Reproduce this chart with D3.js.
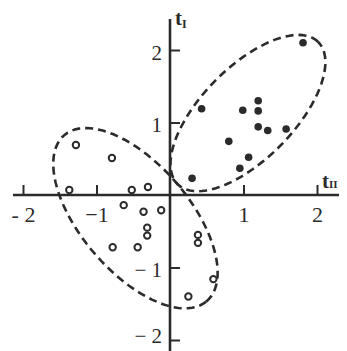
<!DOCTYPE html>
<html lang="zh">
    <head>
        <meta charset="utf-8">
        <title>t_I / t_II 散点图</title>
        <script type="text/javascript" src="https://cdn.jsdelivr.net/npm/d3@7/dist/d3.min.js"></script>
        <style>
            body { margin: 0; background: #fff; }
            text { font-family: "Liberation Serif", "DejaVu Serif", serif; fill: #2b2b2b; }
        </style>
    </head>
    <body>
        <div class="chart"></div>
        <script type="text/javascript">
            // 第一类（实心点）
            var groupI_x = [0.43, 0.99, 1.20, 1.20, 1.20, 1.33, 1.58, 0.80, 1.07, 0.95, 0.30, 1.81];
            var groupI_y = [1.19, 1.17, 1.30, 1.16, 0.94, 0.89, 0.91, 0.74, 0.52, 0.37, 0.23, 2.10];
            // 第二类（空心圈）
            var groupII_x = [-1.28, -0.79, -1.37, -0.52, -0.30, -0.63, -0.36, -0.12, -0.31, -0.31, -0.78, -0.44, 0.38, 0.38, 0.59, 0.25];
            var groupII_y = [0.69, 0.51, 0.07, 0.07, 0.11, -0.14, -0.23, -0.21, -0.45, -0.56, -0.72, -0.72, -0.55, -0.66, -1.16, -1.40];
            // 刻度
            var xTicks = [-2, -1, 1, 2];
            var xTickLabels = ["- 2", "\u22121", "1", "2"];
            var yTicks = [2, 1, -1, -2];
            var yTickLabels = ["2", "1", "\u2212 1", "\u2212 2"];
            // 虚线椭圆: 中心, 半长轴, 半短轴, 倾角(度)
            var ellipseI = [1.06, 1.13, 1.37, 0.63, 46];
            var ellipseII = [-0.47, -0.32, 1.50, 0.74, -50];

            var w = 347, h = 351;
            var svg = d3.select("body div.chart")
                        .append("svg")
                        .attr("width", w)
                        .attr("height", h);

            var x = d3.scaleLinear().domain([-2, 2]).range([23, 317]);
            var y = d3.scaleLinear().domain([-2, 2]).range([340, 50]);
            var ink = "#2b2b2b";

            // 坐标轴线
            svg.append("line").attr("x1", 13).attr("x2", 339).attr("y1", y(0)).attr("y2", y(0))
               .attr("stroke", ink).attr("stroke-width", 2.6);
            svg.append("line").attr("x1", x(0)).attr("x2", x(0)).attr("y1", 19).attr("y2", h)
               .attr("stroke", ink).attr("stroke-width", 2.6);

            var xAxis = d3.axisBottom(x).tickValues(xTicks)
                          .tickFormat(function(d, i){return xTickLabels[i];})
                          .tickSizeInner(-10).tickSizeOuter(0).tickPadding(11);
            var gx = svg.append("g").attr("transform", "translate(0," + y(0) + ")").call(xAxis);
            gx.select(".domain").remove();
            gx.selectAll(".tick line").attr("stroke", ink).attr("stroke-width", 2);
            gx.selectAll(".tick text").attr("font-size", "22px").attr("fill", ink)
              .attr("font-family", "Liberation Serif");

            var yAxis = d3.axisLeft(y).tickValues(yTicks)
                          .tickFormat(function(d, i){return yTickLabels[i];})
                          .tickSizeInner(-10).tickSizeOuter(0).tickPadding(8);
            var gy = svg.append("g").attr("transform", "translate(" + x(0) + ",0)").call(yAxis);
            gy.select(".domain").remove();
            gy.selectAll(".tick line").attr("stroke", ink).attr("stroke-width", 2);
            gy.selectAll(".tick text").attr("font-size", "21px").attr("fill", ink)
              .attr("font-family", "Liberation Serif")
              .attr("dy", function(d){return d < -1.5 ? "0.1em" : "0.45em";});

            // 轴名
            var tI = svg.append("text").attr("x", 175).attr("y", 25).attr("font-size", "21px").attr("font-weight", "bold");
            tI.append("tspan").text("t");
            tI.append("tspan").attr("font-size", "12px").attr("dy", 3).text("I");
            var tII = svg.append("text").attr("x", 322).attr("y", 188).attr("font-size", "21px").attr("font-weight", "bold");
            tII.append("tspan").text("t");
            tII.append("tspan").attr("font-size", "11px").attr("dy", 0).text("II");

            // 虚线椭圆
            function ellipsePath(e){
                var pts = d3.range(0, 361, 4).map(function(deg){
                    var t = deg * Math.PI / 180, r = e[4] * Math.PI / 180;
                    var ex = e[2] * Math.cos(t), ey = e[3] * Math.sin(t);
                    return [x(e[0] + ex * Math.cos(r) - ey * Math.sin(r)),
                            y(e[1] + ex * Math.sin(r) + ey * Math.cos(r))];
                });
                return d3.line()(pts);
            }
            svg.selectAll("path.ell")
               .data([ellipseI, ellipseII])
               .enter()
               .append("path")
               .attr("class", "ell")
               .attr("d", ellipsePath)
               .attr("fill", "none")
               .attr("stroke", ink)
               .attr("stroke-width", 2.6)
               .attr("stroke-dasharray", "8,5");

            // 实心点
            svg.selectAll("circle.g1")
               .data(groupI_x)
               .enter()
               .append("circle")
               .attr("class", "g1")
               .attr("cx", function(d){return x(d);})
               .attr("cy", function(d, i){return y(groupI_y[i]);})
               .attr("r", 3.8)
               .attr("fill", ink);

            // 空心圈
            svg.selectAll("circle.g2")
               .data(groupII_x)
               .enter()
               .append("circle")
               .attr("class", "g2")
               .attr("cx", function(d){return x(d);})
               .attr("cy", function(d, i){return y(groupII_y[i]);})
               .attr("r", 3.2)
               .attr("fill", "none")
               .attr("stroke", ink)
               .attr("stroke-width", 2);
        </script>
    </body>
</html>
